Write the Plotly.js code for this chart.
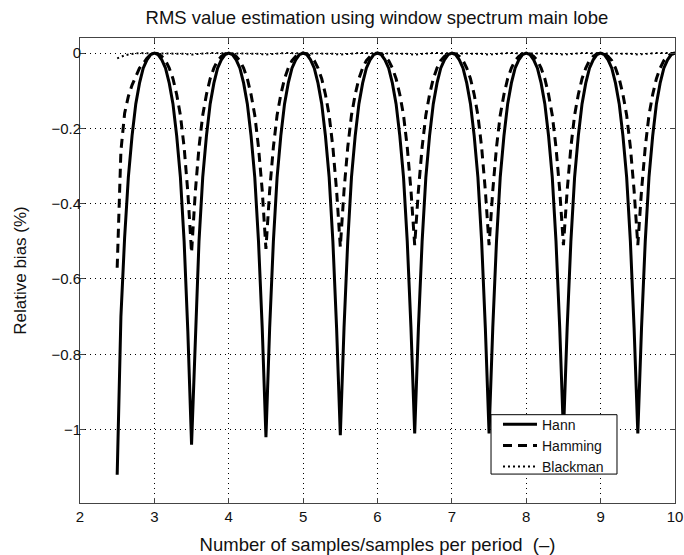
<!DOCTYPE html>
<html>
<head>
<meta charset="utf-8">
<script src="https://cdn.plot.ly/plotly-3.0.1.min.js"></script>
<style>html,body{margin:0;padding:0;background:#fff;}#chart{width:684px;height:555px;}</style>
</head>
<body>
<div id="chart"></div>
<script>
// Number of samples / samples per period
const xSamples = [
  2.5,2.55,2.6,2.65,2.7,2.75,2.8,2.85,2.9,2.95,
  3,3.05,3.1,3.15,3.2,3.25,3.3,3.35,3.4,3.45,
  3.5,3.55,3.6,3.65,3.7,3.75,3.8,3.85,3.9,3.95,
  4,4.05,4.1,4.15,4.2,4.25,4.3,4.35,4.4,4.45,
  4.5,4.55,4.6,4.65,4.7,4.75,4.8,4.85,4.9,4.95,
  5,5.05,5.1,5.15,5.2,5.25,5.3,5.35,5.4,5.45,
  5.5,5.55,5.6,5.65,5.7,5.75,5.8,5.85,5.9,5.95,
  6,6.05,6.1,6.15,6.2,6.25,6.3,6.35,6.4,6.45,
  6.5,6.55,6.6,6.65,6.7,6.75,6.8,6.85,6.9,6.95,
  7,7.05,7.1,7.15,7.2,7.25,7.3,7.35,7.4,7.45,
  7.5,7.55,7.6,7.65,7.7,7.75,7.8,7.85,7.9,7.95,
  8,8.05,8.1,8.15,8.2,8.25,8.3,8.35,8.4,8.45,
  8.5,8.55,8.6,8.65,8.7,8.75,8.8,8.85,8.9,8.95,
  9,9.05,9.1,9.15,9.2,9.25,9.3,9.35,9.4,9.45,
  9.5,9.55,9.6,9.65,9.7,9.75,9.8,9.85,9.9,9.95,
  10
];

// Relative bias (%) — Hann window
const hannBias = [
  -1.12,-0.70,-0.49,-0.33,-0.22,-0.135,-0.08,-0.04,-0.018,-0.004,
  0,-0.004,-0.018,-0.04,-0.08,-0.135,-0.22,-0.33,-0.50,-0.74,
  -1.04,-0.74,-0.50,-0.33,-0.22,-0.135,-0.08,-0.04,-0.018,-0.004,
  0,-0.004,-0.018,-0.04,-0.08,-0.135,-0.22,-0.33,-0.50,-0.73,
  -1.02,-0.73,-0.50,-0.33,-0.22,-0.135,-0.08,-0.04,-0.018,-0.004,
  0,-0.004,-0.018,-0.04,-0.08,-0.135,-0.22,-0.33,-0.50,-0.73,
  -1.015,-0.73,-0.50,-0.33,-0.22,-0.135,-0.08,-0.04,-0.018,-0.004,
  0,-0.004,-0.018,-0.04,-0.08,-0.135,-0.22,-0.33,-0.50,-0.73,
  -1.01,-0.73,-0.50,-0.33,-0.22,-0.135,-0.08,-0.04,-0.018,-0.004,
  0,-0.004,-0.018,-0.04,-0.08,-0.135,-0.22,-0.33,-0.50,-0.73,
  -1.01,-0.73,-0.50,-0.33,-0.22,-0.135,-0.08,-0.04,-0.018,-0.004,
  0,-0.004,-0.018,-0.04,-0.08,-0.135,-0.22,-0.33,-0.50,-0.73,
  -1.01,-0.73,-0.50,-0.33,-0.22,-0.135,-0.08,-0.04,-0.018,-0.004,
  0,-0.004,-0.018,-0.04,-0.08,-0.135,-0.22,-0.33,-0.50,-0.73,
  -1.01,-0.73,-0.50,-0.33,-0.22,-0.135,-0.08,-0.04,-0.018,-0.004,
  0
];

// Relative bias (%) — Hamming window
const hammingBias = [
  -0.57,-0.26,-0.16,-0.115,-0.085,-0.06,-0.04,-0.028,-0.014,-0.004,
  0,-0.002,-0.009,-0.02,-0.04,-0.068,-0.11,-0.165,-0.25,-0.37,
  -0.53,-0.37,-0.25,-0.165,-0.11,-0.068,-0.04,-0.02,-0.009,-0.002,
  0,-0.002,-0.009,-0.02,-0.04,-0.068,-0.11,-0.165,-0.25,-0.365,
  -0.52,-0.365,-0.25,-0.165,-0.11,-0.068,-0.04,-0.02,-0.009,-0.002,
  0,-0.002,-0.009,-0.02,-0.04,-0.068,-0.11,-0.165,-0.25,-0.365,
  -0.515,-0.365,-0.25,-0.165,-0.11,-0.068,-0.04,-0.02,-0.009,-0.002,
  0,-0.002,-0.009,-0.02,-0.04,-0.068,-0.11,-0.165,-0.25,-0.365,
  -0.51,-0.365,-0.25,-0.165,-0.11,-0.068,-0.04,-0.02,-0.009,-0.002,
  0,-0.002,-0.009,-0.02,-0.04,-0.068,-0.11,-0.165,-0.25,-0.365,
  -0.51,-0.365,-0.25,-0.165,-0.11,-0.068,-0.04,-0.02,-0.009,-0.002,
  0,-0.002,-0.009,-0.02,-0.04,-0.068,-0.11,-0.165,-0.25,-0.365,
  -0.51,-0.365,-0.25,-0.165,-0.11,-0.068,-0.04,-0.02,-0.009,-0.002,
  0,-0.002,-0.009,-0.02,-0.04,-0.068,-0.11,-0.165,-0.25,-0.365,
  -0.51,-0.365,-0.25,-0.165,-0.11,-0.068,-0.04,-0.02,-0.009,-0.002,
  0
];

// Relative bias (%) — Blackman window
const blackmanBias = [
  -0.014,-0.009,-0.006,-0.004,-0.002,-0.001,0,0,0,0,
  0,0,0,0,0,0,-0.0005,-0.001,-0.002,-0.003,
  -0.004,-0.003,-0.002,-0.001,-0.0005,0,0,0,0,0,
  0,0,0,0,0,0,-0.0005,-0.001,-0.002,-0.003,
  -0.004,-0.003,-0.002,-0.001,-0.0005,0,0,0,0,0,
  0,0,0,0,0,0,-0.0005,-0.001,-0.002,-0.003,
  -0.004,-0.003,-0.002,-0.001,-0.0005,0,0,0,0,0,
  0,0,0,0,0,0,-0.0005,-0.001,-0.002,-0.003,
  -0.004,-0.003,-0.002,-0.001,-0.0005,0,0,0,0,0,
  0,0,0,0,0,0,-0.0005,-0.001,-0.002,-0.003,
  -0.004,-0.003,-0.002,-0.001,-0.0005,0,0,0,0,0,
  0,0,0,0,0,0,-0.0005,-0.001,-0.002,-0.003,
  -0.004,-0.003,-0.002,-0.001,-0.0005,0,0,0,0,0,
  0,0,0,0,0,0,-0.0005,-0.001,-0.002,-0.003,
  -0.004,-0.003,-0.002,-0.001,-0.0005,0,0,0,0,0,
  0
];

const seriesNames = ['Hann', 'Hamming', 'Blackman'];
const xTicks = [2, 3, 4, 5, 6, 7, 8, 9, 10];
const yTicks = [0, -0.2, -0.4, -0.6, -0.8, -1];

const FONT = '"Liberation Sans", Arial, Helvetica, sans-serif';

const traces = [
  {x: xSamples, y: hannBias, name: seriesNames[0], type: 'scatter', mode: 'lines',
   line: {color: '#000', width: 3, dash: 'solid'}},
  {x: xSamples, y: hammingBias, name: seriesNames[1], type: 'scatter', mode: 'lines',
   line: {color: '#000', width: 3, dash: '9px,6px'}},
  {x: xSamples, y: blackmanBias, name: seriesNames[2], type: 'scatter', mode: 'lines',
   line: {color: '#000', width: 2, dash: '2px,3px'}}
];

const axisCommon = {
  showline: true, linecolor: '#444', linewidth: 1, mirror: 'allticks',
  ticks: 'inside', ticklen: 5, tickcolor: '#444', tickwidth: 1,
  showgrid: true, gridcolor: '#000', gridwidth: 1, griddash: '1px,4px',
  zeroline: false,
  tickfont: {family: FONT, size: 15, color: '#111'}
};

const layout = {
  width: 684, height: 555,
  margin: {l: 80, r: 9, t: 37.5, b: 51.5},
  paper_bgcolor: '#fff', plot_bgcolor: '#fff',
  font: {family: FONT, color: '#111'},
  title: {text: 'RMS value estimation using window spectrum main lobe',
          font: {family: FONT, size: 18.5, color: '#111'},
          x: 0.551, xanchor: 'center', y: 0.968, yanchor: 'middle'},
  xaxis: Object.assign({}, axisCommon, {
    range: [2, 10], tickmode: 'array', tickvals: xTicks,
    title: {text: 'Number of samples/samples per period  (–)', font: {family: FONT, size: 18.5, color: '#111'}, standoff: 14}
  }),
  yaxis: Object.assign({}, axisCommon, {
    range: [-1.195, 0.04], tickmode: 'array', tickvals: yTicks,
    ticklabelstandoff: -5,
    title: {text: 'Relative bias (%)', font: {family: FONT, size: 17, color: '#111'}, standoff: 20}
  }),
  shapes: [
    {type: 'rect', xref: 'paper', yref: 'paper', x0: 0.6908, x1: 0.9025, y0: 0.0622, y1: 0.1899,
     line: {color: '#000', width: 1}, fillcolor: '#fff', layer: 'above'}
  ],
  showlegend: true,
  legend: {x: 0.7025, y: 0.203, xanchor: 'left', yanchor: 'top',
           bgcolor: 'rgba(0,0,0,0)', borderwidth: 0,
           font: {family: FONT, size: 14, color: '#111'},
           itemwidth: 34, tracegroupgap: 0}
};

Plotly.newPlot('chart', traces, layout, {staticPlot: true, displayModeBar: false});
</script>
</body>
</html>
